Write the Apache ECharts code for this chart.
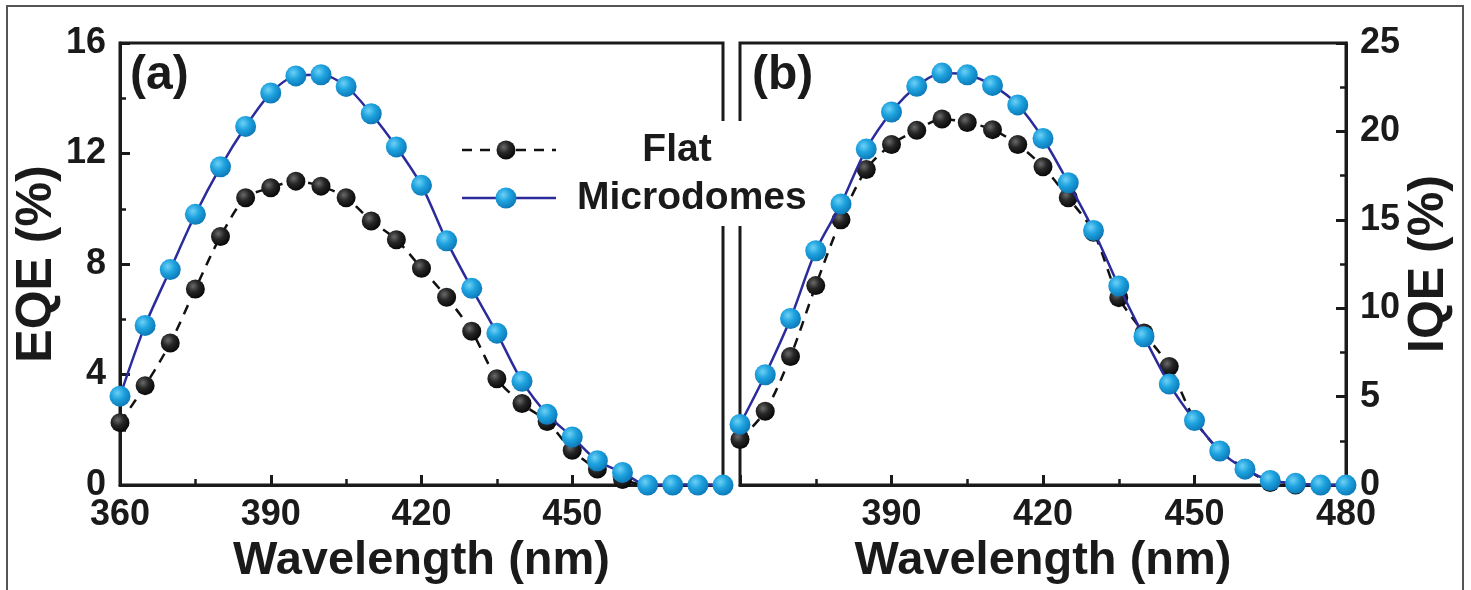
<!DOCTYPE html>
<html>
<head>
<meta charset="utf-8">
<script src="https://cdn.jsdelivr.net/npm/echarts@6/dist/echarts.min.js"></script>
<style>
html,body{margin:0;padding:0;background:#fff;}
#chart{width:1471px;height:590px;}
</style>
</head>
<body>
<div id="chart"></div>
<script>
// ---- data ----
const wavelength = [360,365,370,375,380,385,390,395,400,405,410,415,420,425,430,435,440,445,450,455,460,465,470,475,480];
const eqeFlat = [2.26,3.6,5.14,7.1,9.0,10.4,10.76,11.0,10.82,10.4,9.56,8.88,7.85,6.8,5.57,3.85,2.95,2.3,1.26,0.58,0.2,0,0,0,0];
const eqeMicro = [3.22,5.78,7.8,9.8,11.52,12.98,14.19,14.81,14.85,14.43,13.44,12.24,10.85,8.84,7.12,5.5,3.76,2.56,1.74,0.88,0.46,0,0,0,0];
const iqeFlat = [2.58,4.18,7.27,11.28,15.0,17.85,19.26,20.06,20.7,20.5,20.1,19.26,18.0,16.25,14.3,10.6,8.6,6.71,3.71,1.95,0.95,0.15,0,0,0];
const iqeMicro = [3.43,6.24,9.42,13.25,15.9,19.0,21.1,22.55,23.3,23.2,22.6,21.5,19.6,17.1,14.4,11.26,8.39,5.71,3.65,1.93,0.9,0.26,0.1,0,0];
const seriesNames = ['Flat','Microdomes'];
const panelLabels = ['(a)','(b)'];
const xTitle = 'Wavelength (nm)';
const yTitles = ['EQE (%)','IQE (%)'];

const pairs = (ys) => wavelength.map((w,i)=>[w, ys[i]]);
const FONT = "'Liberation Sans', Arial, sans-serif";
const INK = '#1a1a1a';
const NAVY = '#2b2b9c';
const blueBall = {type:'radial',x:0.38,y:0.35,r:0.7,colorStops:[{offset:0,color:'#6fd0f5'},{offset:0.45,color:'#1ea3df'},{offset:1,color:'#0b75b5'}]};
const blackBall = {type:'radial',x:0.38,y:0.35,r:0.7,colorStops:[{offset:0,color:'#6a6a6a'},{offset:0.45,color:'#262626'},{offset:1,color:'#050505'}]};

const chart = echarts.init(document.getElementById('chart'));

const axisLine = {show:true, lineStyle:{color:INK, width:3}};
const tickLbl = {color:INK, fontFamily:FONT, fontWeight:'bold', fontSize:36};
const nameStyle = {color:INK, fontFamily:FONT, fontWeight:'bold', fontSize:47};
const yNameStyle = {color:INK, fontFamily:FONT, fontWeight:'bold', fontSize:50};

function xAxisFor(idx){
  return {
    type:'value', gridIndex:idx, min:360, max:480, interval:30,
    axisLine:axisLine,
    axisTick:{inside:true, length:10, lineStyle:{color:INK,width:3}},
    minorTick:{show:true, splitNumber:2, length:6, lineStyle:{color:INK,width:2.5}},
    splitLine:{show:false},
    axisLabel:Object.assign({margin:12, showMaxLabel: idx===0 ? false : true, showMinLabel: idx===1 ? false : true}, tickLbl),
    name:xTitle, nameLocation:'middle', nameGap:26, nameTextStyle:nameStyle
  };
}

const option = {
  backgroundColor:'#ffffff',
  animation:false,
  grid:[
    {left:120, top:43, width:603, height:445, show:true, borderColor:INK, borderWidth:3, backgroundColor:'transparent'},
    {left:740, top:43, width:606, height:445, show:true, borderColor:INK, borderWidth:3, backgroundColor:'transparent'}
  ],
  xAxis:[xAxisFor(0), xAxisFor(1)],
  yAxis:[
    {type:'value', gridIndex:0, min:0, max:16, interval:4, position:'left',
     axisLine:axisLine,
     axisTick:{inside:true, length:10, lineStyle:{color:INK,width:3}},
     minorTick:{show:true, splitNumber:2, length:6, lineStyle:{color:INK,width:2.5}},
     splitLine:{show:false},
     axisLabel:Object.assign({margin:14}, tickLbl),
     name:yTitles[0], nameLocation:'middle', nameGap:44, nameTextStyle:yNameStyle},
    {type:'value', gridIndex:1, min:0, max:25, interval:5, position:'right',
     axisLine:axisLine,
     axisTick:{inside:true, length:10, lineStyle:{color:INK,width:3}},
     minorTick:{show:true, splitNumber:2, length:6, lineStyle:{color:INK,width:2.5}},
     splitLine:{show:false},
     axisLabel:Object.assign({margin:14}, tickLbl),
     name:yTitles[1], nameLocation:'middle', nameGap:58, nameRotate:90, nameTextStyle:yNameStyle}
  ],
  series:[
    {name:seriesNames[0], type:'line', xAxisIndex:0, yAxisIndex:0, data:pairs(eqeFlat), clip:false, z:2,
     symbol:'circle', symbolSize:19, smooth:0.3,
     lineStyle:{color:'#111', width:2.5, type:[10,8]}, itemStyle:{color:blackBall}},
    {name:seriesNames[1], type:'line', xAxisIndex:0, yAxisIndex:0, data:pairs(eqeMicro), clip:false, z:3,
     symbol:'circle', symbolSize:21, smooth:0.3,
     lineStyle:{color:NAVY, width:2.5}, itemStyle:{color:blueBall}},
    {name:seriesNames[0], type:'line', xAxisIndex:1, yAxisIndex:1, data:pairs(iqeFlat), clip:false, z:2,
     symbol:'circle', symbolSize:19, smooth:0.3,
     lineStyle:{color:'#111', width:2.5, type:[10,8]}, itemStyle:{color:blackBall}},
    {name:seriesNames[1], type:'line', xAxisIndex:1, yAxisIndex:1, data:pairs(iqeMicro), clip:false, z:3,
     symbol:'circle', symbolSize:21, smooth:0.3,
     lineStyle:{color:NAVY, width:2.5}, itemStyle:{color:blueBall}}
  ],
  graphic:[
    {type:'rect', z:0, silent:true, shape:{x:7,y:6,width:1456,height:600}, style:{fill:null, stroke:'#555', lineWidth:2}},
    {type:'text', z:50, left:130, top:52, style:{text:panelLabels[0], font:"bold 48px 'Liberation Sans', Arial, sans-serif", fill:INK}},
    {type:'text', z:50, left:752, top:52, style:{text:panelLabels[1], font:"bold 48px 'Liberation Sans', Arial, sans-serif", fill:INK}},
    {type:'rect', z:100, shape:{x:455,y:121,width:355,height:105}, style:{fill:'#ffffff'}},
    {type:'line', z:101, shape:{x1:462,y1:150,x2:556,y2:150}, style:{stroke:'#111', lineWidth:2.5, lineDash:[10,8]}},
    {type:'circle', z:102, shape:{cx:506,cy:150,r:9.5}, style:{fill:blackBall}},
    {type:'line', z:101, shape:{x1:462,y1:198,x2:556,y2:198}, style:{stroke:NAVY, lineWidth:2.5}},
    {type:'circle', z:102, shape:{cx:506,cy:198,r:10.5}, style:{fill:blueBall}},
    {type:'text', z:102, x:677, y:150, style:{text:seriesNames[0], font:"bold 39px 'Liberation Sans', Arial, sans-serif", fill:INK, align:'center', verticalAlign:'middle'}},
    {type:'text', z:102, x:577, y:198, style:{text:seriesNames[1], font:"bold 39px 'Liberation Sans', Arial, sans-serif", fill:INK, align:'left', verticalAlign:'middle'}}
  ]
};
chart.setOption(option);
</script>
</body>
</html>
